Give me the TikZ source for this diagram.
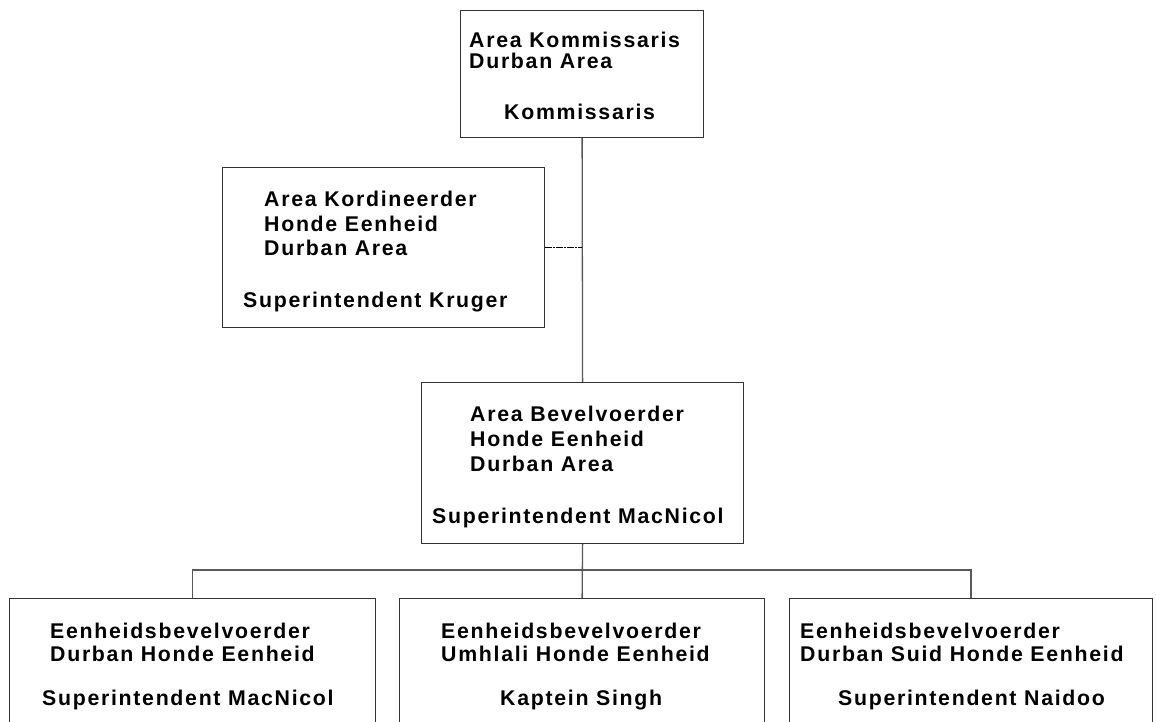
\documentclass[tikz,border=0pt]{standalone}
\usepackage{fontspec}
\setmainfont{Liberation Sans}[LetterSpace=8]
\begin{document}
\begin{tikzpicture}[x=1pt,y=-1pt,
  box/.style={draw=black!80,line width=1.2pt,inner sep=0pt,anchor=north west},
  txt/.style={anchor=base west,inner sep=0pt,font=\fontsize{21.3}{24}\selectfont\bfseries},
  conn/.style={draw=black!65,line width=1.3pt}]
\clip (0,0) rectangle (1156,722);
% boxes
\node[box,minimum width=243pt,minimum height=127pt] (top) at (460,10) {};
\node[box,minimum width=322pt,minimum height=160pt] (kru) at (222,167) {};
\node[box,minimum width=322pt,minimum height=161pt] (bev) at (421,382) {};
\node[box,minimum width=366pt,minimum height=200pt] (b1) at (9,598) {};
\node[box,minimum width=365pt,minimum height=200pt] (b2) at (399,598) {};
\node[box,minimum width=363pt,minimum height=200pt] (b3) at (789,598) {};
% texts
\node[txt] (t1) at (469,48) {Area Kommissaris};
\node[txt] (t2) at (469,69) {Durban Area};
\node[txt] (t3) at (504,120) {Kommissaris};
\node[txt] (k1) at (264,207) {Area Kordineerder};
\node[txt] (k2) at (264,231) {Honde Eenheid};
\node[txt] (k3) at (264,255) {Durban Area};
\node[txt] (k4) at (243,307) {Superintendent Kruger};
\node[txt] (v1) at (470,421) {Area Bevelvoerder};
\node[txt] (v2) at (470,446) {Honde Eenheid};
\node[txt] (v3) at (470,471) {Durban Area};
\node[txt] (v4) at (432,523) {Superintendent MacNicol};
\node[txt] (a1) at (50,638) {Eenheidsbevelvoerder};
\node[txt] (a2) at (50,661) {Durban Honde Eenheid};
\node[txt] (a3) at (42,705) {Superintendent MacNicol};
\node[txt] (c1) at (441,638) {Eenheidsbevelvoerder};
\node[txt] (c2) at (441,661) {Umhlali Honde Eenheid};
\node[txt] (c3) at (500,705) {Kaptein Singh};
\node[txt] (d1) at (800,638) {Eenheidsbevelvoerder};
\node[txt] (d2) at (800,661) {Durban Suid Honde Eenheid};
\node[txt] (d3) at (838,705) {Superintendent Naidoo};
% connectors
\coordinate (bus) at (581,570);
\draw[conn] (top.south) -- (bev.north);
\draw[black,line width=0.8pt,dash pattern=on 7pt off 1pt on 2pt off 1pt] (kru.east) -- (kru.east -| top.south);
\draw[conn] (bev.south) -- (b2.north);
\draw[conn] (b1.north) |- (bus) -| (b3.north);
\end{tikzpicture}
\end{document}
